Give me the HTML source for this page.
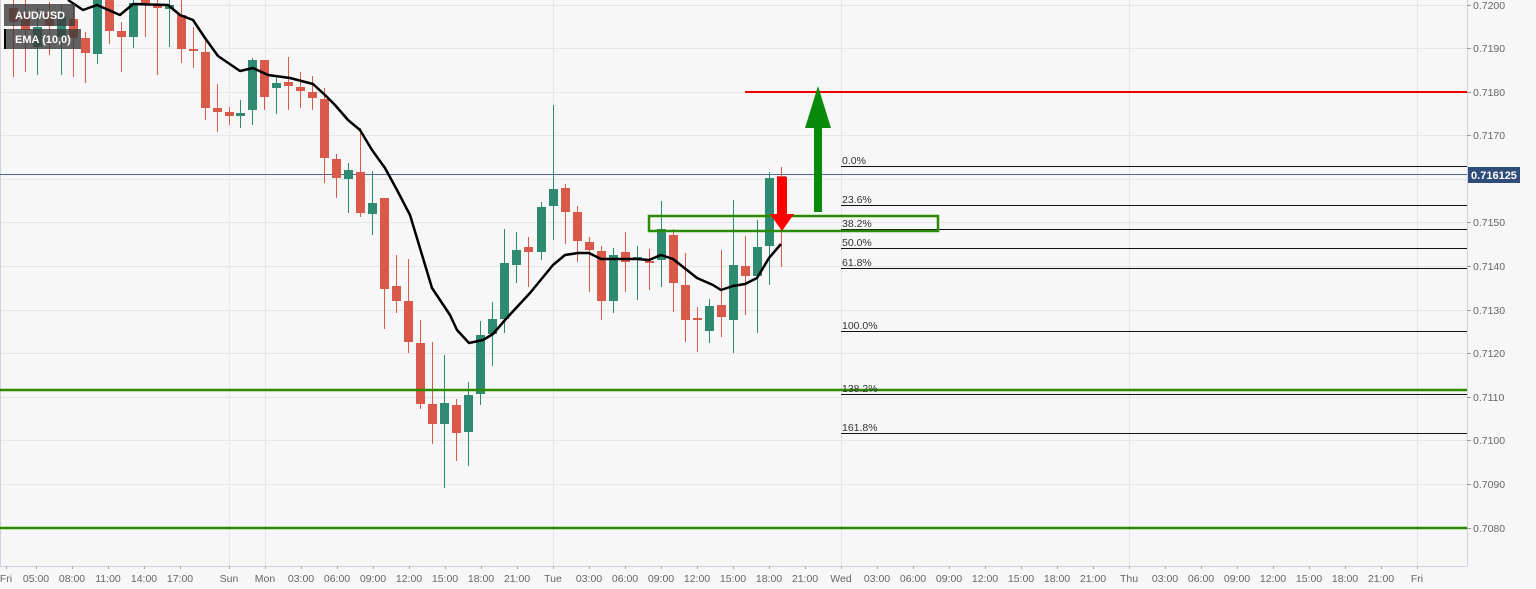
<!DOCTYPE html>
<html><head><meta charset="utf-8"><style>
html,body{margin:0;padding:0;background:#f7f7f7;}
svg{display:block;font-family:"Liberation Sans",Arial,sans-serif;}
</style></head><body>
<svg width="1536" height="589" viewBox="0 0 1536 589" xmlns="http://www.w3.org/2000/svg">
<rect x="0" y="0" width="1536" height="589" fill="#f7f7f7"/>
<g stroke="#e6e6e6" stroke-width="1">
<line x1="0" y1="5.5" x2="1467" y2="5.5"/><line x1="0" y1="48.5" x2="1467" y2="48.5"/><line x1="0" y1="92.5" x2="1467" y2="92.5"/><line x1="0" y1="135.5" x2="1467" y2="135.5"/><line x1="0" y1="179.5" x2="1467" y2="179.5"/><line x1="0" y1="222.5" x2="1467" y2="222.5"/><line x1="0" y1="266.5" x2="1467" y2="266.5"/><line x1="0" y1="310.5" x2="1467" y2="310.5"/><line x1="0" y1="353.5" x2="1467" y2="353.5"/><line x1="0" y1="397.5" x2="1467" y2="397.5"/><line x1="0" y1="440.5" x2="1467" y2="440.5"/><line x1="0" y1="484.5" x2="1467" y2="484.5"/><line x1="0" y1="528.5" x2="1467" y2="528.5"/>
<line x1="229.5" y1="0" x2="229.5" y2="566"/><line x1="265.5" y1="0" x2="265.5" y2="566"/><line x1="553.5" y1="0" x2="553.5" y2="566"/><line x1="841.5" y1="0" x2="841.5" y2="566"/><line x1="1129.5" y1="0" x2="1129.5" y2="566"/><line x1="1417.5" y1="0" x2="1417.5" y2="566"/>
</g>
<line x1="0" y1="566.5" x2="1467" y2="566.5" stroke="#ccd3de"/>
<line x1="1467.5" y1="0" x2="1467.5" y2="566" stroke="#ccd3de"/>
<line x1="0.5" y1="0" x2="0.5" y2="566" stroke="#ccd3de"/>
<line x1="0" y1="174.5" x2="1467" y2="174.5" stroke="#4a6a96" stroke-width="1"/>
<g id="candles"></g>
<polyline fill="none" stroke="#000" stroke-width="2.5" stroke-linejoin="round" points="68,0 83,10 97,5 120,15 133,4 168,5 180,15 193,20 205,38 218,56 240,71 253,68 268,75 290,78 313,84 325,95 335,105 348,120 360,130 372,150 385,168 397,190 410,215 432,288 450,315 457,330 469,343 483,340 493,334 505,320 517,307 530,293 553,265 565,255 578,253 589,253 601,259 613,259 637,259 649,260 661,255 673,259 697,278 713,285 721,290 733,286 745,284 757,278 769,258 781,244"/>
<line x1="745" y1="92" x2="1467" y2="92" stroke="#ee0000" stroke-width="2"/>
<line x1="0" y1="390" x2="1467" y2="390" stroke="#2a8a00" stroke-width="2.5"/>
<line x1="0" y1="528" x2="1467" y2="528" stroke="#2a8a00" stroke-width="2.5"/>
<g stroke="#111" stroke-width="1">
<line x1="841" y1="166.5" x2="1467" y2="166.5"/><line x1="841" y1="205.5" x2="1467" y2="205.5"/><line x1="841" y1="229.5" x2="1467" y2="229.5"/><line x1="841" y1="248.5" x2="1467" y2="248.5"/><line x1="841" y1="268.5" x2="1467" y2="268.5"/><line x1="841" y1="331.5" x2="1467" y2="331.5"/><line x1="841" y1="394.5" x2="1467" y2="394.5"/><line x1="841" y1="433.5" x2="1467" y2="433.5"/>
</g>
<g font-size="10.5" fill="#333">
<text x="842" y="164">0.0%</text><text x="842" y="203">23.6%</text><text x="842" y="227">38.2%</text><text x="842" y="246">50.0%</text><text x="842" y="266">61.8%</text><text x="842" y="329">100.0%</text><text x="842" y="392">138.2%</text><text x="842" y="431">161.8%</text>
</g>
<rect x="649" y="216" width="289" height="15" fill="none" stroke="#2a8a00" stroke-width="2.5"/>
<polygon points="814,212 822,212 822,128 831,128 818,86 805,128 814,128" fill="#0a8a0a"/>
<polygon points="777,177 787,177 787,214 794,214 782,231 770,214 777,214" fill="#ff0000"/>
<g font-size="10.5" fill="#666">
<text x="1473" y="9">0.7200</text><text x="1473" y="52">0.7190</text><text x="1473" y="96">0.7180</text><text x="1473" y="139">0.7170</text><text x="1473" y="183">0.7160</text><text x="1473" y="226">0.7150</text><text x="1473" y="270">0.7140</text><text x="1473" y="314">0.7130</text><text x="1473" y="357">0.7120</text><text x="1473" y="401">0.7110</text><text x="1473" y="444">0.7100</text><text x="1473" y="488">0.7090</text><text x="1473" y="532">0.7080</text>
</g>
<g stroke="#999"><line x1="1467" y1="5.5" x2="1471" y2="5.5"/><line x1="1467" y1="48.5" x2="1471" y2="48.5"/><line x1="1467" y1="92.5" x2="1471" y2="92.5"/><line x1="1467" y1="135.5" x2="1471" y2="135.5"/><line x1="1467" y1="222.5" x2="1471" y2="222.5"/><line x1="1467" y1="266.5" x2="1471" y2="266.5"/><line x1="1467" y1="310.5" x2="1471" y2="310.5"/><line x1="1467" y1="353.5" x2="1471" y2="353.5"/><line x1="1467" y1="397.5" x2="1471" y2="397.5"/><line x1="1467" y1="440.5" x2="1471" y2="440.5"/><line x1="1467" y1="484.5" x2="1471" y2="484.5"/><line x1="1467" y1="528.5" x2="1471" y2="528.5"/></g>
<rect x="1468" y="167" width="52" height="16" fill="#2f4d78"/>
<text x="1494" y="179" font-size="11" font-weight="bold" fill="#fff" text-anchor="middle">0.716125</text>
<g font-size="10.5" fill="#666" text-anchor="middle" id="xl"></g>
<g stroke="#aaa" id="xt"></g>
<rect x="4" y="4" width="71" height="22" fill="#3c3c3c" fill-opacity="0.8"/>
<text x="15" y="19" font-size="11" font-weight="bold" fill="#fff">AUD/USD</text>
<rect x="4" y="29" width="77" height="20" fill="#3c3c3c" fill-opacity="0.8"/>
<rect x="4" y="29" width="2" height="20" fill="#000"/>
<text x="15" y="43" font-size="11" font-weight="bold" fill="#fff">EMA (10,0)</text>
</svg>
<script>
var C=[
[13,8,22,0,77,'r'],[25,14,30,0,72,'r'],[37,27,47,8,75,'g'],[49,14,26,2,55,'r'],[61,15,37,4,75,'g'],[73,19,38,5,77,'r'],[85,38,53,32,83,'r'],[97,0,54,0,64,'g'],[109,0,31,0,44,'r'],[121,31,37,22,72,'r'],[133,3,37,0,48,'g'],[145,0,3,0,37,'r'],[157,5,8,0,75,'r'],[169,5,9,0,47,'g'],[181,15,49,0,63,'r'],[193,49,51,27,68,'r'],[205,52,108,37,120,'r'],[217,108,112,84,132,'r'],[229,112,116,107,125,'r'],
[240,113,116,100,128,'g'],[252,60,110,58,125,'g'],[264,60,97,60,110,'r'],[276,83,88,77,114,'g'],[288,82,86,57,110,'r'],[300,87,91,72,108,'r'],[312,92,98,76,110,'r'],[324,99,158,88,183,'r'],[336,159,178,154,198,'r'],[348,170,179,163,213,'g'],[360,172,213,128,217,'r'],[372,203,214,171,235,'g'],[384,198,289,198,329,'r'],[396,286,301,255,313,'r'],[408,301,342,259,353,'r'],[420,343,404,320,409,'r'],[432,404,424,342,444,'r'],[444,403,424,355,488,'g'],[456,405,433,399,461,'r'],[468,395,432,382,466,'g'],[480,335,394,321,405,'g'],[492,319,334,302,366,'g'],[504,263,319,229,333,'g'],
[516,250,265,232,283,'g'],[528,247,252,237,287,'r'],[541,207,252,202,260,'g'],[553,189,206,105,240,'g'],[565,188,212,184,244,'r'],[577,212,241,206,262,'r'],[589,242,250,237,292,'r'],[601,251,301,246,320,'r'],[613,255,301,248,313,'g'],[625,252,262,232,292,'r'],[637,257,259,246,300,'g'],[649,261,263,249,290,'r'],[661,229,260,201,287,'g'],[673,235,283,229,312,'r'],[685,285,320,253,342,'r'],[697,318,320,307,352,'r'],[709,306,331,299,343,'g'],[721,305,317,250,337,'r'],[733,265,320,200,353,'g'],[745,266,276,236,315,'r'],[757,247,276,220,333,'g'],[769,178,246,172,285,'g'],[781,176,180,167,267,'r']];
var s='';C.forEach(function(c){var col=c[5]=='g'?'#2f8a72':'#d9594a';
s+='<line x1="'+c[0]+'.5" y1="'+c[3]+'" x2="'+c[0]+'.5" y2="'+c[4]+'" stroke="'+col+'" stroke-width="1"/>';
s+='<rect x="'+(c[0]-4)+'" y="'+c[1]+'" width="9" height="'+Math.max(2,c[2]-c[1])+'" fill="'+col+'"/>';});
document.getElementById('candles').innerHTML=s;
var L=[['Fri',6],['05:00',36],['08:00',72],['11:00',108],['14:00',144],['17:00',180],['Sun',229],['Mon',265]];
var h=['03:00','06:00','09:00','12:00','15:00','18:00','21:00'];
[['Mon',265],['Tue',553],['Wed',841],['Thu',1129]].forEach(function(d,i){if(i>0)L.push(d);for(var k=0;k<7;k++)L.push([h[k],d[1]+36*(k+1)]);});
L.push(['Fri',1417]);
var t='',k='';L.forEach(function(l){t+='<text x="'+l[1]+'" y="582">'+l[0]+'</text>';k+='<line x1="'+l[1]+'.5" y1="566" x2="'+l[1]+'.5" y2="569"/>';});
document.getElementById('xl').innerHTML=t;document.getElementById('xt').innerHTML=k;
</script>
</body></html>
